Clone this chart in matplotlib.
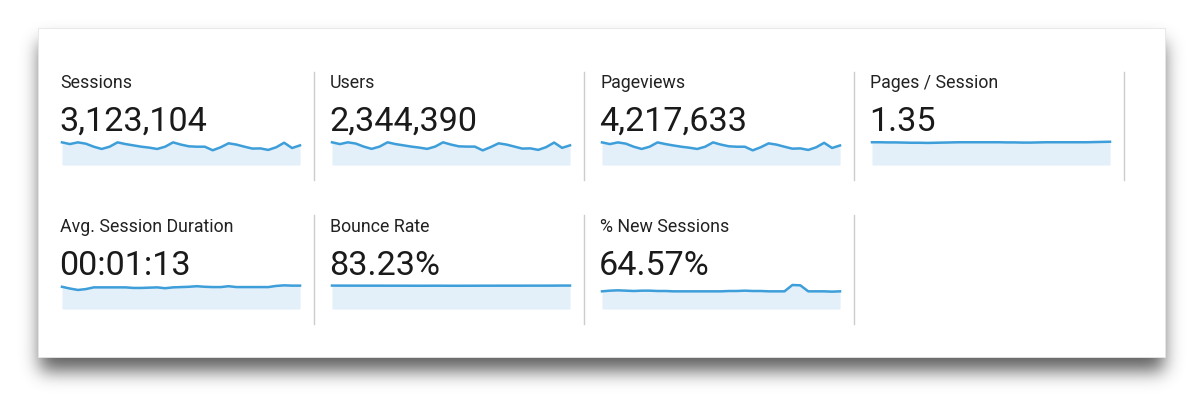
import numpy as np
import matplotlib
matplotlib.use("Agg")
import matplotlib.pyplot as plt
from matplotlib.patches import Rectangle

# ---- data ----
metric_names = ["Sessions", "Users", "Pageviews", "Pages / Session",
                "Avg. Session Duration", "Bounce Rate", "% New Sessions"]
metric_values = ["3,123,104", "2,344,390", "4,217,633", "1.35",
                 "00:01:13", "83.23%", "64.57%"]

sessions = [120, 111, 120, 113, 97, 85, 97, 120, 111, 104, 97, 92, 85, 97, 120, 108,
            99, 97, 97, 78, 94, 115, 108, 97, 87, 88, 80, 94, 118, 90, 104]  # thousands
users = [90, 83, 90, 85, 73, 64, 73, 90, 83, 78, 73, 69, 64, 73, 90, 81,
         74, 73, 73, 58, 71, 86, 81, 73, 65, 66, 60, 71, 89, 68, 78]  # thousands
pageviews = [162, 150, 162, 153, 131, 115, 131, 162, 150, 140, 131, 124, 115, 131, 162, 146,
             134, 131, 131, 105, 127, 155, 146, 131, 117, 119, 108, 127, 159, 122, 140]  # thousands
pages_per_session = [1.35, 1.35, 1.34, 1.34, 1.33, 1.32, 1.32, 1.31, 1.32, 1.33, 1.34, 1.35,
                     1.35, 1.35, 1.35, 1.35, 1.35, 1.34, 1.34, 1.33, 1.33, 1.34, 1.35, 1.35,
                     1.35, 1.35, 1.35, 1.35, 1.36, 1.37, 1.38]
avg_duration = [77, 71, 66, 69, 75, 75, 75, 75, 75, 73, 73, 74, 75, 72, 75, 76,
                77, 79, 77, 76, 76, 79, 76, 76, 76, 76, 76, 80, 82, 81, 81]  # seconds
bounce_rate = [83.5, 83.4, 83.3, 83.3, 83.2, 83.2, 83.2, 83.1, 83.1, 83.1, 83.0, 83.0, 83.0,
               83.1, 83.0, 82.9, 82.9, 83.0, 83.0, 83.1, 83.1, 83.2, 83.2, 83.2, 83.2,
               83.3, 83.3, 83.3, 83.4, 83.6, 83.6]
new_sessions = [62.4, 64.8, 66.0, 64.8, 63.6, 64.8, 64.8, 63.6, 63.6, 62.4, 62.4, 62.4,
                62.4, 62.4, 62.4, 62.4, 63.6, 63.6, 64.8, 63.6, 63.6, 62.4, 62.4, 62.4,
                84.8, 83.6, 62.4, 62.4, 62.4, 61.3, 62.4]

series = [sessions, users, pageviews, pages_per_session, avg_duration, bounce_rate, new_sessions]
y_tops = [159, 119, 215, 1.78, 104, 107, 106]

# ---- figure ----
W, H = 1200, 395
fig = plt.figure(figsize=(W / 100, H / 100), dpi=100)
fig.patch.set_facecolor("white")
bg = fig.add_axes([0, 0, 1, 1])
bg.set_xlim(0, W)
bg.set_ylim(H, 0)
bg.axis("off")

# card shadow (blurred)
card = (38, 28, 1165, 357)
yy, xx = np.mgrid[0:H, 0:W]
mask = ((xx >= card[0] + 2) & (xx <= card[2] - 2) & (yy >= card[1] + 14) & (yy <= card[3] + 13)).astype(float)
def blur(a, s, axis):
    k = np.exp(-0.5 * (np.arange(-3 * s, 3 * s + 1) / s) ** 2)
    k /= k.sum()
    return np.apply_along_axis(lambda v: np.convolve(v, k, mode="same"), axis, a)
sh = blur(blur(mask, 9, 0), 9, 1)
rgba = np.zeros((H, W, 4))
rgba[..., :3] = 0.22
rgba[..., 3] = sh * 0.8
bg.imshow(rgba, extent=(0, W, H, 0), zorder=0, interpolation="bilinear")
bg.add_patch(Rectangle((card[0], card[1]), card[2] - card[0], card[3] - card[1],
                       facecolor="white", edgecolor="#e6e6e6", lw=0.6, zorder=1))
bg.set_xlim(0, W)
bg.set_ylim(H, 0)

font = "Roboto"
line_color = "#3d9ed9"
fill_color = "#e3f0fa"
col_x = [60, 330, 600, 870]
row_y = [0, 144]

for i, (name, val, data, ytop) in enumerate(zip(metric_names, metric_values, series, y_tops)):
    r, c = divmod(i, 4)
    x0 = col_x[c]
    dy = row_y[r]
    bg.text(x0, 88 + dy, name, fontsize=12.8, family=font, color="#222222",
            va="baseline", ha="left", zorder=3)
    bg.text(x0 - 1, 131 + dy, val, fontsize=24.6, family=font, color="#1a1a1a",
            va="baseline", ha="left", zorder=3)
    # sparkline axes in pixel coords
    left, right = x0 + 2, x0 + 240
    top, bottom = 135 + dy, 165 + dy
    ax = fig.add_axes([left / W, 1 - bottom / H, (right - left) / W, (bottom - top) / H])
    xs = np.arange(len(data))
    ax.fill_between(xs, data, 0, color=fill_color, lw=0, zorder=1)
    ax.plot(xs, data, color=line_color, lw=1.8, solid_joinstyle="round", clip_on=False, zorder=2)
    ax.set_xlim(0, len(data) - 1)
    ax.set_ylim(0, ytop)
    ax.axis("off")

# dividers
for x in [314, 584, 854, 1124]:
    bg.plot([x, x], [72, 180], color="#cccccc", lw=1.0, zorder=2)
for x in [314, 584, 854]:
    bg.plot([x, x], [215, 324], color="#cccccc", lw=1.0, zorder=2)

fig.savefig("out.png", dpi=100, facecolor="white")
